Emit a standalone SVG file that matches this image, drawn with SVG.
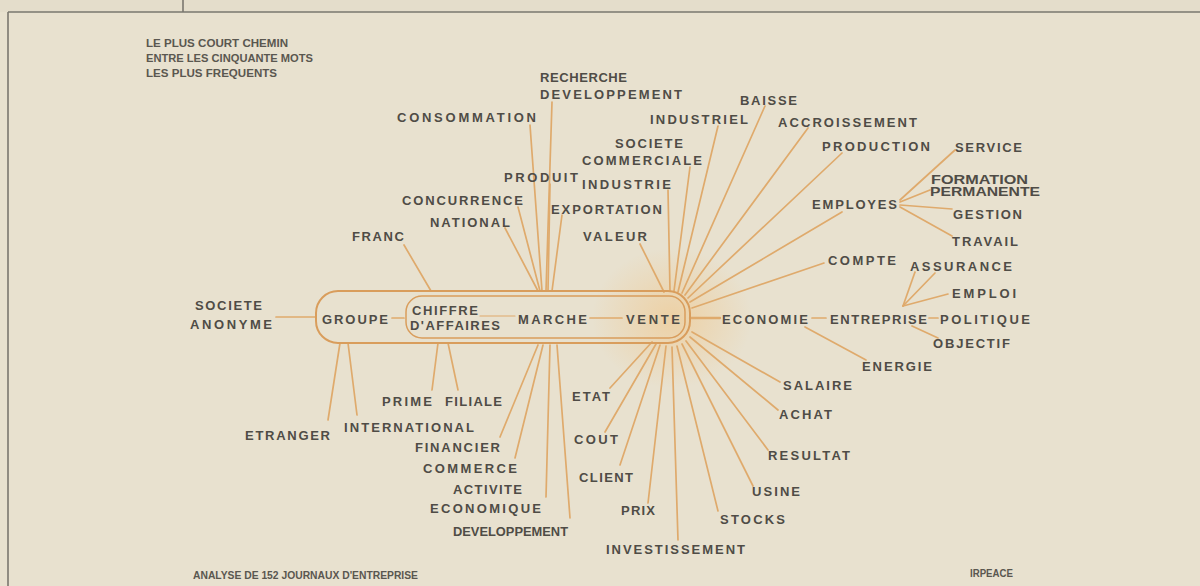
<svg xmlns="http://www.w3.org/2000/svg" width="1200" height="586" viewBox="0 0 1200 586">
<defs>
<style>
.t{font-family:"Liberation Sans",Arial,sans-serif;font-weight:bold;font-size:13px;fill:#4f4c46}
.s{font-size:10.5px;fill:#5a5750}
.m{font-size:12px}
.c line{stroke:#dfaa6c;stroke-width:1.7;stroke-linecap:round}
.frame{stroke:#7a776f;stroke-width:1.6;fill:none}
.cap{fill:none;stroke:#d99d5c;stroke-width:2}
</style>
<radialGradient id="glow" cx="0.5" cy="0.5" r="0.5">
<stop offset="0" stop-color="#f2c07a" stop-opacity="0.5"/>
<stop offset="1" stop-color="#f2c07a" stop-opacity="0"/>
</radialGradient>
</defs>
<rect width="1200" height="586" fill="#e8e1cf"/>
<rect width="1200" height="12" fill="#e4ddcb"/>
<g id="frame">
<line class="frame" x1="8" y1="12" x2="1200" y2="12"/>
<line class="frame" x1="8" y1="12" x2="8" y2="586"/>
<line class="frame" x1="183" y1="0" x2="183" y2="12"/>
</g>
<ellipse cx="672" cy="318" rx="80" ry="70" fill="url(#glow)"/>
<g id="connectors" class="c">
<line x1="276" y1="317" x2="316" y2="317"/>
<line x1="392" y1="318" x2="404" y2="318"/>
<line x1="480" y1="316" x2="515" y2="316" style="stroke-width:1.2"/>
<line x1="590" y1="318" x2="622" y2="318"/>
<line x1="690" y1="318" x2="720" y2="318" style="stroke-width:2.4"/>
<line x1="812" y1="318" x2="826" y2="318"/>
<line x1="929" y1="318" x2="938" y2="318"/>
<line x1="340" y1="343" x2="328" y2="420"/>
<line x1="348" y1="343" x2="357" y2="415"/>
<line x1="438" y1="343" x2="432" y2="390"/>
<line x1="448" y1="343" x2="458" y2="390"/>
<line x1="431" y1="291" x2="404" y2="245"/>
<line x1="530" y1="125" x2="542" y2="291"/>
<line x1="552" y1="102" x2="546" y2="291"/>
<line x1="550" y1="184" x2="548" y2="291"/>
<line x1="518" y1="207" x2="540" y2="291"/>
<line x1="505" y1="228" x2="538" y2="291"/>
<line x1="562" y1="215" x2="552" y2="291"/>
<line x1="538" y1="345" x2="500" y2="437"/>
<line x1="543" y1="345" x2="515" y2="458"/>
<line x1="550" y1="345" x2="546" y2="497"/>
<line x1="557" y1="345" x2="570" y2="518"/>
<line x1="640" y1="244" x2="664" y2="292"/>
<line x1="668" y1="190" x2="670" y2="291"/>
<line x1="690" y1="167" x2="674" y2="291"/>
<line x1="718" y1="126" x2="678" y2="292"/>
<line x1="765" y1="106" x2="682" y2="293"/>
<line x1="808" y1="128" x2="685" y2="295"/>
<line x1="842" y1="153" x2="688" y2="298"/>
<line x1="842" y1="212" x2="690" y2="302"/>
<line x1="824" y1="263" x2="692" y2="308"/>
<line x1="780" y1="382" x2="692" y2="332"/>
<line x1="778" y1="410" x2="690" y2="337"/>
<line x1="768" y1="450" x2="686" y2="341"/>
<line x1="753" y1="486" x2="682" y2="344"/>
<line x1="718" y1="511" x2="677" y2="346"/>
<line x1="678" y1="540" x2="672" y2="347"/>
<line x1="648" y1="503" x2="666" y2="346"/>
<line x1="620" y1="465" x2="660" y2="345"/>
<line x1="605" y1="432" x2="656" y2="344"/>
<line x1="610" y1="388" x2="652" y2="342"/>
<line x1="900" y1="200" x2="955" y2="150"/>
<line x1="900" y1="202" x2="930" y2="190"/>
<line x1="900" y1="205" x2="952" y2="209"/>
<line x1="900" y1="207" x2="952" y2="236"/>
<line x1="903" y1="306" x2="915" y2="272"/>
<line x1="903" y1="306" x2="935" y2="273"/>
<line x1="903" y1="306" x2="948" y2="294"/>
<line x1="912" y1="326" x2="938" y2="338"/>
<line x1="805" y1="327" x2="866" y2="360"/>
</g>
<g id="capsule">
<rect class="cap" x="316" y="291" width="374" height="52" rx="22"/>
<rect class="cap" x="406" y="296" width="279" height="42" rx="16" style="stroke-width:1.5"/>
</g>
<g id="title">
<text class="t s" x="146" y="47" textLength="142" lengthAdjust="spacingAndGlyphs">LE PLUS COURT CHEMIN</text>
<text class="t s" x="146" y="62" textLength="167" lengthAdjust="spacingAndGlyphs">ENTRE LES CINQUANTE MOTS</text>
<text class="t s" x="146" y="77" textLength="131" lengthAdjust="spacingAndGlyphs">LES PLUS FREQUENTS</text>
</g>
<g id="n-recherche"><text class="t" x="540" y="82" textLength="87">RECHERCHE</text><text class="t" x="540" y="99" textLength="142">DEVELOPPEMENT</text></g>
<g id="n-consommation"><text class="t" x="397" y="122" textLength="139">CONSOMMATION</text></g>
<g id="n-baisse"><text class="t" x="740" y="105" textLength="57">BAISSE</text></g>
<g id="n-industriel"><text class="t" x="650" y="124" textLength="98">INDUSTRIEL</text></g>
<g id="n-accroissement"><text class="t" x="778" y="127" textLength="139">ACCROISSEMENT</text></g>
<g id="n-societe-commerciale"><text class="t" x="615" y="148" textLength="68">SOCIETE</text><text class="t" x="582" y="165" textLength="120">COMMERCIALE</text></g>
<g id="n-production"><text class="t" x="822" y="151" textLength="108">PRODUCTION</text></g>
<g id="n-service"><text class="t" x="955" y="152" textLength="67">SERVICE</text></g>
<g id="n-produit"><text class="t" x="504" y="182" textLength="74">PRODUIT</text></g>
<g id="n-industrie"><text class="t" x="582" y="189" textLength="89">INDUSTRIE</text></g>
<g id="n-formation"><text class="t m" x="931" y="184" textLength="97" lengthAdjust="spacingAndGlyphs">FORMATION</text><text class="t m" x="930" y="196" textLength="110" lengthAdjust="spacingAndGlyphs">PERMANENTE</text></g>
<g id="n-concurrence"><text class="t" x="402" y="205" textLength="121">CONCURRENCE</text></g>
<g id="n-employes"><text class="t" x="812" y="209" textLength="85">EMPLOYES</text></g>
<g id="n-exportation"><text class="t" x="551" y="214" textLength="111">EXPORTATION</text></g>
<g id="n-gestion"><text class="t" x="953" y="219" textLength="69">GESTION</text></g>
<g id="n-national"><text class="t" x="430" y="227" textLength="80">NATIONAL</text></g>
<g id="n-franc"><text class="t" x="352" y="241" textLength="52">FRANC</text></g>
<g id="n-valeur"><text class="t" x="583" y="241" textLength="64">VALEUR</text></g>
<g id="n-travail"><text class="t" x="952" y="246" textLength="66">TRAVAIL</text></g>
<g id="n-compte"><text class="t" x="828" y="265" textLength="68">COMPTE</text></g>
<g id="n-assurance"><text class="t" x="910" y="271" textLength="102">ASSURANCE</text></g>
<g id="n-emploi"><text class="t" x="952" y="298" textLength="64">EMPLOI</text></g>
<g id="n-societe-anonyme"><text class="t" x="195" y="310" textLength="67">SOCIETE</text><text class="t" x="190" y="329" textLength="82">ANONYME</text></g>
<g id="n-groupe"><text class="t" x="322" y="324" textLength="66">GROUPE</text></g>
<g id="n-chiffre"><text class="t" x="412" y="315" textLength="66">CHIFFRE</text><text class="t" x="410" y="330" textLength="90">D'AFFAIRES</text></g>
<g id="n-marche"><text class="t" x="518" y="324" textLength="69">MARCHE</text></g>
<g id="n-vente"><text class="t" x="626" y="324" textLength="54">VENTE</text></g>
<g id="n-economie"><text class="t" x="722" y="324" textLength="86">ECONOMIE</text></g>
<g id="n-entreprise"><text class="t" x="830" y="324" textLength="97">ENTREPRISE</text></g>
<g id="n-politique"><text class="t" x="940" y="324" textLength="90">POLITIQUE</text></g>
<g id="n-objectif"><text class="t" x="933" y="348" textLength="77">OBJECTIF</text></g>
<g id="n-energie"><text class="t" x="862" y="371" textLength="70">ENERGIE</text></g>
<g id="n-salaire"><text class="t" x="783" y="390" textLength="69">SALAIRE</text></g>
<g id="n-achat"><text class="t" x="779" y="419" textLength="53">ACHAT</text></g>
<g id="n-resultat"><text class="t" x="768" y="460" textLength="82">RESULTAT</text></g>
<g id="n-usine"><text class="t" x="752" y="496" textLength="48">USINE</text></g>
<g id="n-stocks"><text class="t" x="720" y="524" textLength="65">STOCKS</text></g>
<g id="n-prix"><text class="t" x="621" y="515" textLength="34">PRIX</text></g>
<g id="n-investissement"><text class="t" x="606" y="554" textLength="139">INVESTISSEMENT</text></g>
<g id="n-client"><text class="t" x="579" y="482" textLength="54">CLIENT</text></g>
<g id="n-cout"><text class="t" x="574" y="444" textLength="44">COUT</text></g>
<g id="n-etat"><text class="t" x="572" y="401" textLength="38">ETAT</text></g>
<g id="n-developpement"><text class="t" x="453" y="536" textLength="115" lengthAdjust="spacingAndGlyphs">DEVELOPPEMENT</text></g>
<g id="n-activite"><text class="t" x="453" y="494" textLength="69">ACTIVITE</text><text class="t" x="430" y="513" textLength="111">ECONOMIQUE</text></g>
<g id="n-commerce"><text class="t" x="423" y="473" textLength="94">COMMERCE</text></g>
<g id="n-financier"><text class="t" x="415" y="452" textLength="85">FINANCIER</text></g>
<g id="n-international"><text class="t" x="344" y="432" textLength="130">INTERNATIONAL</text></g>
<g id="n-etranger"><text class="t" x="245" y="440" textLength="85">ETRANGER</text></g>
<g id="n-prime"><text class="t" x="382" y="406" textLength="50">PRIME</text></g>
<g id="n-filiale"><text class="t" x="445" y="406" textLength="57">FILIALE</text></g>
<g id="footer">
<text class="t s" x="193" y="579" textLength="225" lengthAdjust="spacingAndGlyphs">ANALYSE DE 152 JOURNAUX D'ENTREPRISE</text>
<text class="t s" x="970" y="577" textLength="43" lengthAdjust="spacingAndGlyphs">IRPEACE</text>
</g>
</svg>
